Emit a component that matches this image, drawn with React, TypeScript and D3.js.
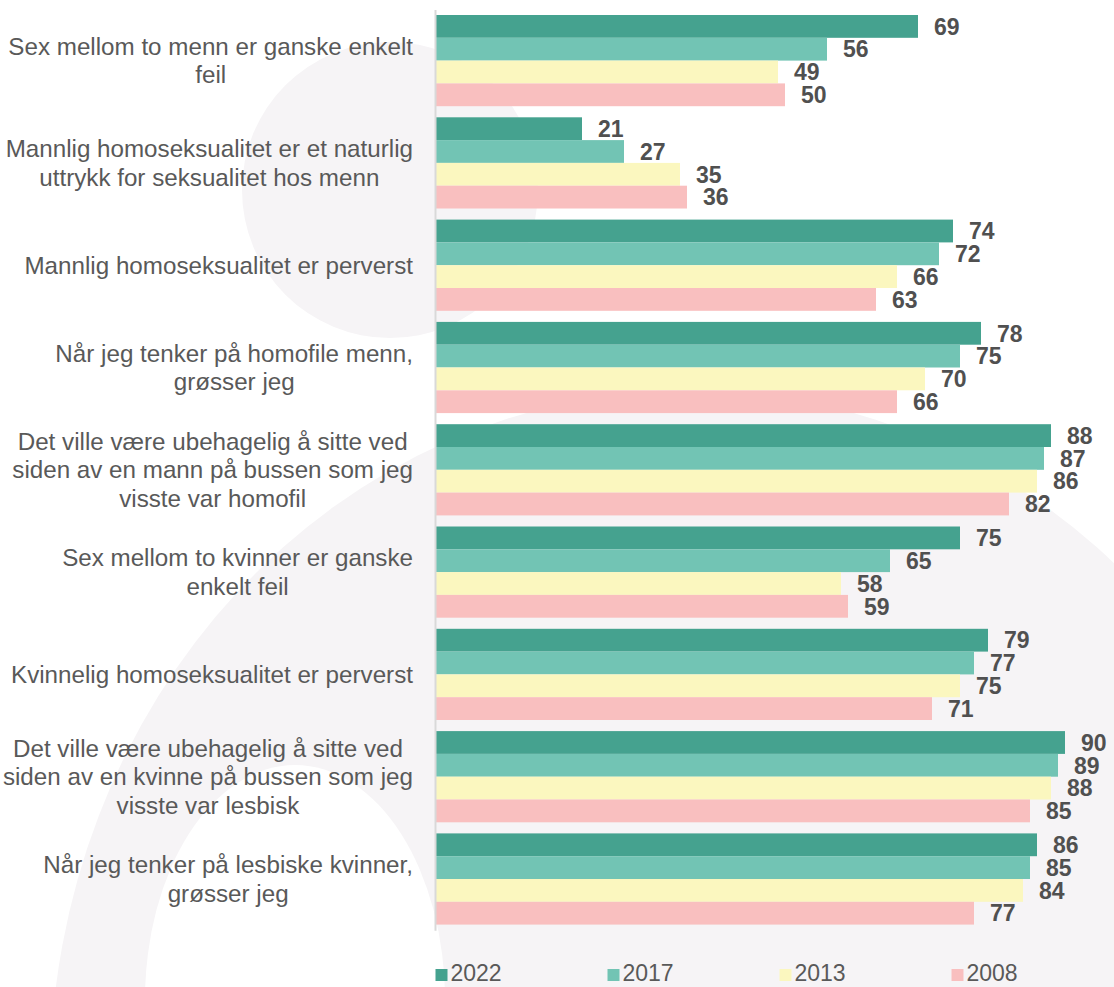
import React, { useEffect, useRef } from "react";
import * as d3 from "d3";

// categories (line breaks as in the original)
const categories = [
  "Sex mellom to menn er ganske enkelt\nfeil",
  "Mannlig homoseksualitet er et naturlig\nuttrykk for seksualitet hos menn",
  "Mannlig homoseksualitet er perverst",
  "Når jeg tenker på homofile menn,\ngrøsser jeg",
  "Det ville være ubehagelig å sitte ved\nsiden av en mann på bussen som jeg\nvisste var homofil",
  "Sex mellom to kvinner er ganske\nenkelt feil",
  "Kvinnelig homoseksualitet er perverst",
  "Det ville være ubehagelig å sitte ved\nsiden av en kvinne på bussen som jeg\nvisste var lesbisk",
  "Når jeg tenker på lesbiske kvinner,\ngrøsser jeg",
];

const years = ["2022", "2017", "2013", "2008"];

const values2022 = [69, 21, 74, 78, 88, 75, 79, 90, 86];
const values2017 = [56, 27, 72, 75, 87, 65, 77, 89, 85];
const values2013 = [49, 35, 66, 70, 86, 58, 75, 88, 84];
const values2008 = [50, 36, 63, 66, 82, 59, 71, 85, 77];

const colors = ["#45a28f", "#72c4b4", "#fbf7bf", "#f9bfbf"];

const W = 1114;
const H = 987;
const FONT = "'Liberation Sans', Arial, sans-serif";

const App = () => {
  const ref = useRef(null);

  useEffect(() => {
    d3.select(ref.current).selectAll("*").remove();

    const seriesValues = [values2022, values2017, values2013, values2008];
    const rows = categories.map((c, i) => ({
      key: c,
      vals: years.map((yr, j) => ({ year: yr, value: seriesValues[j][i] })),
    }));

    const svg = d3
      .select(ref.current)
      .append("svg")
      .attr("width", W)
      .attr("height", H)
      .style("display", "block");

    // background + faint decorative logo shapes
    svg.append("rect").attr("width", W).attr("height", H).attr("fill", "#ffffff");
    const bg = svg.append("g").attr("fill", "#f6f4f6");
    bg.append("ellipse").attr("cx", 690).attr("cy", 1080).attr("rx", 640).attr("ry", 690);
    bg.append("ellipse")
      .attr("cx", 295)
      .attr("cy", 1000)
      .attr("rx", 150)
      .attr("ry", 235)
      .attr("fill", "#ffffff");
    bg.append("circle").attr("cx", 390).attr("cy", 190).attr("r", 148);

    // scales
    const x = d3.scaleLinear().domain([0, 100]).range([435, 1135]);
    const y = d3
      .scaleBand()
      .domain(categories)
      .range([9.45, 930.15])
      .paddingInner(0.1085)
      .paddingOuter(0.0543);
    const ySub = d3.scaleBand().domain(years).range([0, y.bandwidth()]);
    const color = d3.scaleOrdinal().domain(years).range(colors);

    // bars
    const groups = svg
      .selectAll(".group")
      .data(rows)
      .enter()
      .append("g")
      .attr("class", "group")
      .attr("transform", (d) => `translate(0, ${y(d.key)})`);

    groups
      .selectAll("rect")
      .data((d) => d.vals)
      .enter()
      .append("rect")
      .attr("x", x(0))
      .attr("y", (d) => ySub(d.year))
      .attr("width", (d) => x(d.value) - x(0))
      .attr("height", ySub.bandwidth())
      .attr("fill", (d) => color(d.year));

    // value labels
    groups
      .selectAll(".val")
      .data((d) => d.vals)
      .enter()
      .append("text")
      .attr("class", "val")
      .attr("x", (d) => x(d.value) + 16)
      .attr("y", (d) => ySub(d.year) + ySub.bandwidth() / 2)
      .attr("dy", "0.36em")
      .attr("font-family", FONT)
      .attr("font-size", 23)
      .attr("font-weight", "bold")
      .attr("fill", "#505050")
      .text((d) => d.value);

    // vertical axis line
    const axis = svg
      .append("g")
      .attr("transform", `translate(${x(0)}, 0)`)
      .call(d3.axisLeft(y).tickSize(0).tickFormat(() => ""));
    axis.select(".domain").attr("stroke", "#d9d9d9").attr("stroke-width", 2);

    // category labels: block right-aligned to 413, lines centred within block
    const labelRight = 413;
    const lineH = 28.5;
    rows.forEach((row) => {
      const lines = row.key.split("\n");
      const g = svg.append("g");
      const texts = lines.map((ln) =>
        g
          .append("text")
          .attr("font-family", FONT)
          .attr("font-size", 24.2)
          .attr("fill", "#595959")
          .attr("text-anchor", "middle")
          .text(ln)
      );
      const maxW = d3.max(texts, (t) => t.node().getComputedTextLength());
      const cy = y(row.key) + y.bandwidth() / 2;
      texts.forEach((t, i) => {
        t.attr("x", labelRight - maxW / 2)
          .attr("y", cy + (i - (lines.length - 1) / 2) * lineH)
          .attr("dy", "0.35em");
      });
    });

    // legend (kept just inside the bottom edge)
    const legend = svg
      .selectAll(".legend")
      .data(years)
      .enter()
      .append("g")
      .attr("class", "legend")
      .attr("transform", (d, i) => `translate(${435.5 + i * 172}, 0)`);
    legend
      .append("rect")
      .attr("y", 969)
      .attr("width", 12)
      .attr("height", 12)
      .attr("fill", (d) => color(d));
    legend
      .append("text")
      .attr("x", 15)
      .attr("y", 981)
      .attr("font-family", FONT)
      .attr("font-size", 23)
      .attr("fill", "#595959")
      .text((d) => d);
  }, []);

  return (
    <div style={{ position: "absolute", left: 0, top: 0 }}>
      <div ref={ref} />
    </div>
  );
};

export default App;
